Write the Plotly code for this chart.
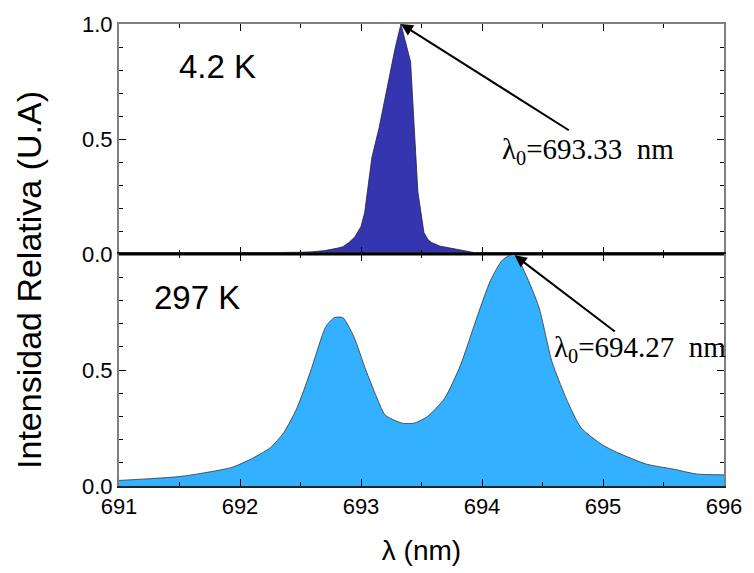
import plotly.graph_objects as go
from plotly.subplots import make_subplots

# Emission spectra (normalised) at two temperatures
wl_4k = [691.0, 691.5, 692.0, 692.3, 692.5, 692.6, 692.7, 692.8, 692.85, 692.9,
         692.95, 693.0, 693.03, 693.06, 693.09, 693.15, 693.2, 693.25, 693.28,
         693.33, 693.37, 693.41, 693.44, 693.47, 693.49, 693.52, 693.55, 693.58,
         693.65, 693.77, 693.9, 694.0, 696.0]
int_4k = [0.0, 0.002, 0.006, 0.004, 0.008, 0.010, 0.015, 0.025, 0.032, 0.05,
          0.075, 0.12, 0.18, 0.30, 0.42, 0.55, 0.68, 0.82, 0.89,
          1.0, 0.92, 0.835, 0.55, 0.27, 0.20, 0.094, 0.065, 0.051,
          0.035, 0.023, 0.008, 0.0, 0.0]

wl_297k = [691.0, 691.52, 691.93, 692.09, 692.25, 692.36, 692.47, 692.58, 692.71,
           692.78, 692.85, 692.94, 693.04, 693.12, 693.20, 693.34, 693.44, 693.55,
           693.69, 693.82, 693.96, 694.07, 694.17, 694.27, 694.36, 694.47, 694.58,
           694.72, 694.82, 694.99, 695.12, 695.36, 695.58, 695.77, 696.0]
int_297k = [0.024, 0.042, 0.08, 0.116, 0.165, 0.229, 0.335, 0.49, 0.688,
            0.726, 0.726, 0.645, 0.50, 0.395, 0.306, 0.271, 0.271, 0.30,
            0.377, 0.518, 0.73, 0.886, 0.975, 1.0, 0.914, 0.772, 0.533,
            0.349, 0.25, 0.179, 0.144, 0.094, 0.073, 0.052, 0.048]

peak_4k = (693.33, 1.0)
peak_297k = (694.27, 1.0)

fig = make_subplots(rows=2, cols=1, shared_xaxes=False, vertical_spacing=0.0)

fig.add_trace(go.Scatter(x=wl_4k, y=int_4k, mode="lines", fill="tozeroy",
                         fillcolor="#3535B0", line=dict(color="#222244", width=0.8),
                         showlegend=False), row=1, col=1)
fig.add_trace(go.Scatter(x=wl_297k, y=int_297k, mode="lines", fill="tozeroy",
                         fillcolor="#33B0FF",
                         line=dict(color="#333333", width=0.8, shape="spline",
                                   smoothing=0.6),
                         showlegend=False), row=2, col=1)

tickfont = dict(family="Liberation Sans, Arial", size=22, color="black")
common_x = dict(range=[691, 696], dtick=1, ticks="inside", ticklen=7, tickwidth=1,
                tickcolor="black", minor=dict(dtick=0.5, ticks="inside", ticklen=4,
                                              tickcolor="black"),
                showline=True, linewidth=2, mirror="allticks", showgrid=False,
                zeroline=False, tickfont=tickfont)
common_y = dict(range=[0, 1], ticks="inside", ticklen=7, tickwidth=1, tickcolor="black",
                minor=dict(dtick=0.1, ticks="inside", ticklen=4, tickcolor="black"),
                showline=True, linewidth=2, linecolor="#808080", mirror="allticks",
                showgrid=False, zeroline=False, tickfont=tickfont, tickformat=".1f")

fig.update_xaxes(**common_x, linecolor="#808080", showticklabels=False, row=1, col=1)
fig.update_xaxes(**common_x, linecolor="#222222",
                 title=dict(text="λ (nm)", font=dict(family="Liberation Sans, Arial",
                                                    size=28, color="black"), standoff=22),
                 row=2, col=1)
fig.update_yaxes(**common_y, tickvals=[0, 0.5, 1.0], row=1, col=1)
fig.update_yaxes(**common_y, tickvals=[0, 0.5, 1.0], ticktext=["0.0", "0.5", ""],
                 row=2, col=1)

fig.update_layout(
    width=754, height=573,
    margin=dict(l=119, r=19, t=17, b=84),
    plot_bgcolor="white", paper_bgcolor="white",
)
fig.layout.yaxis.domain = [0.502, 1.0]
fig.layout.yaxis2.domain = [0.0, 0.502]

# middle boundary drawn as a black line
fig.add_shape(type="line", xref="paper", yref="paper", x0=0, x1=1, y0=0.502, y1=0.502,
              line=dict(color="black", width=2))

fig.add_annotation(text="Intensidad Relativa (U.A)", xref="paper", yref="paper",
                   x=-0.148, y=0.447, xanchor="center", yanchor="middle",
                   textangle=-90, showarrow=False,
                   font=dict(family="Liberation Sans, Arial", size=34, color="black"))

label_font = dict(family="Liberation Sans, Arial", size=33, color="black")
fig.add_annotation(text="4.2 K", x=691.48, y=0.815, xref="x", yref="y", xanchor="left",
                   showarrow=False, font=label_font)
fig.add_annotation(text="297 K", x=691.27, y=0.814, xref="x2", yref="y2", xanchor="left",
                   showarrow=False, font=label_font)

serif = dict(family="Liberation Serif, Times New Roman, serif", size=29, color="black")
fig.add_annotation(text="λ<sub>0</sub>=%.2f&nbsp; nm" % peak_4k[0], x=694.15, y=0.45,
                   xref="x", yref="y", xanchor="left", showarrow=False, font=serif)
fig.add_annotation(text="", x=peak_4k[0], y=peak_4k[1], ax=694.73, ay=0.534,
                   xref="x", yref="y", axref="x", ayref="y", showarrow=True,
                   arrowhead=2, arrowsize=1.2, arrowwidth=2, arrowcolor="black")
fig.add_annotation(text="λ<sub>0</sub>=%.2f&nbsp; nm" % peak_297k[0], x=694.58, y=0.59,
                   xref="x2", yref="y2", xanchor="left", showarrow=False, font=serif)
fig.add_annotation(text="", x=peak_297k[0], y=peak_297k[1] - 0.005, ax=695.11, ay=0.661,
                   xref="x2", yref="y2", axref="x2", ayref="y2", showarrow=True,
                   arrowhead=2, arrowsize=1.2, arrowwidth=2, arrowcolor="black")

fig.write_html("out.html")
